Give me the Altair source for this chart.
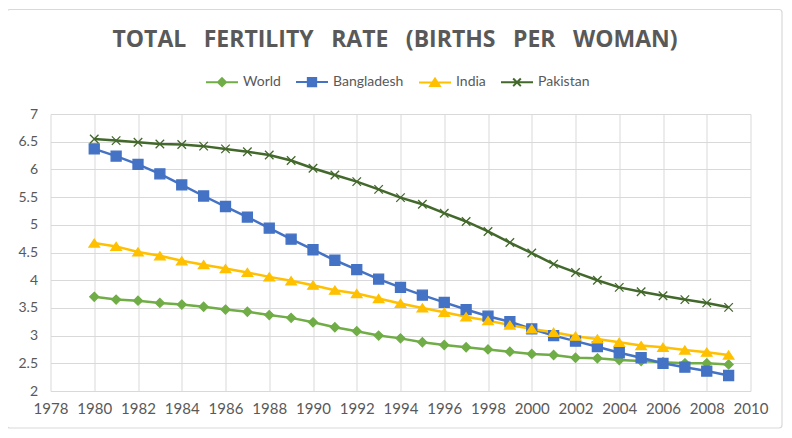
import altair as alt
import pandas as pd

years = list(range(1980, 2010))
series_names = ["World", "Bangladesh", "India", "Pakistan"]
world = [3.70, 3.65, 3.63, 3.59, 3.56, 3.52, 3.47, 3.43, 3.37, 3.32,
         3.24, 3.15, 3.08, 3.00, 2.95, 2.88, 2.83, 2.79, 2.75, 2.71,
         2.67, 2.65, 2.60, 2.59, 2.56, 2.54, 2.52, 2.50, 2.50, 2.48]
bangladesh = [6.37, 6.24, 6.09, 5.92, 5.72, 5.52, 5.33, 5.14, 4.94, 4.74,
              4.55, 4.36, 4.19, 4.02, 3.87, 3.73, 3.60, 3.47, 3.35, 3.25,
              3.12, 3.00, 2.90, 2.80, 2.69, 2.60, 2.50, 2.43, 2.36, 2.28]
india = [4.67, 4.61, 4.51, 4.44, 4.35, 4.28, 4.21, 4.14, 4.06, 3.99,
         3.91, 3.82, 3.76, 3.67, 3.58, 3.50, 3.42, 3.34, 3.27, 3.19,
         3.12, 3.06, 2.99, 2.94, 2.88, 2.82, 2.79, 2.74, 2.70, 2.65]
pakistan = [6.55, 6.52, 6.49, 6.46, 6.45, 6.42, 6.37, 6.32, 6.26, 6.16,
            6.02, 5.90, 5.78, 5.64, 5.49, 5.37, 5.21, 5.06, 4.88, 4.68,
            4.49, 4.29, 4.14, 4.00, 3.87, 3.79, 3.72, 3.65, 3.59, 3.51]
colors = ["#70AD47", "#4472C4", "#FFC000", "#43682B"]
x_ticks = list(range(1978, 2011, 2))
y_ticks = [2, 2.5, 3, 3.5, 4, 4.5, 5, 5.5, 6, 6.5, 7]

marker_paths = [
    "M0,-0.9L0.9,0L0,0.9L-0.9,0Z",
    "M-1,-1H1V1H-1Z",
    "M0,-0.8L1.05,0.8L-1.05,0.8Z",
    "M-0.85,-0.85L0.85,0.85M-0.85,0.85L0.85,-0.85",
]
legend_paths = [
    "M-1,0H1M0,-0.25L0.25,0L0,0.25L-0.25,0Z",
    "M-1,0H1M-0.26,-0.26H0.26V0.26H-0.26Z",
    "M-1,0H1M0,-0.24L0.3,0.22L-0.3,0.22Z",
    "M-1,0H1M-0.24,-0.24L0.24,0.24M-0.24,0.24L0.24,-0.24",
]

rows = []
for name, vals in zip(series_names, [world, bangladesh, india, pakistan]):
    for yr, v in zip(years, vals):
        rows.append({"Year": yr, "Series": name, "Value": v})
df = pd.DataFrame(rows)

color_scale = alt.Scale(domain=series_names, range=colors)
label_color = "#595959"
grid_color = "#D9D9D9"

legend = alt.Legend(
    orient="none", legendX=154.5, legendY=-49.3, direction="horizontal",
    title=None, symbolSize=1024, symbolStrokeWidth=2,
    labelFont="Lato", labelFontSize=14, labelColor=label_color,
    labelOffset=4, columnPadding=11, padding=0,
)

x_enc = alt.X("Year:Q", scale=alt.Scale(domain=[1978, 2010], nice=False, zero=False),
              axis=alt.Axis(values=x_ticks, format="d", grid=True, gridColor=grid_color,
                            domain=False, ticks=False, labelFont="Lato", labelFontSize=15,
                            labelColor=label_color, labelPadding=10, title=None,
                            labelFlush=False, labelOverlap=False))
y_enc = alt.Y("Value:Q", scale=alt.Scale(domain=[2, 7], nice=False, zero=False),
              axis=alt.Axis(values=y_ticks, format="~g", grid=True, gridColor=grid_color,
                            domain=False, ticks=False, labelFont="Lato", labelFontSize=14,
                            labelColor=label_color, labelPadding=13, title=None,
                            labelOverlap=False))

base = alt.Chart(df)
layers = []
for name, col in zip(series_names, colors):
    layers.append(
        base.transform_filter(alt.datum.Series == name)
        .mark_line(strokeWidth=2.5, color=col)
        .encode(x=x_enc, y=y_enc, order=alt.Order("Year:Q"))
    )
for name, col, path in zip(series_names, colors, marker_paths):
    layers.append(
        base.transform_filter(alt.datum.Series == name)
        .mark_point(filled=True, opacity=1, size=100, strokeWidth=1.3, shape=path,
                    fill=col, stroke=col)
        .encode(x=x_enc, y=y_enc)
    )

legend_layer = base.transform_filter("false").mark_point(
    filled=True, opacity=1, strokeWidth=2
).encode(
    color=alt.Color("Series:N", scale=color_scale, legend=legend),
    stroke=alt.Stroke("Series:N", scale=color_scale, legend=legend),
    shape=alt.Shape("Series:N", scale=alt.Scale(domain=series_names, range=legend_paths),
                    legend=legend),
)

frame = alt.Chart(pd.DataFrame({"f": [0]})).mark_rect(
    fill="transparent", stroke=grid_color, strokeWidth=1.2, cornerRadius=3
).encode(x=alt.value(-43.5), x2=alt.value(731.5), y=alt.value(-104.5), y2=alt.value(314))

chart = alt.layer(frame, *layers, legend_layer).properties(
    width=700, height=277,
    autosize=alt.AutoSizeParams(type="none"),
    padding={"left": 42.5, "top": 106, "right": 33.5, "bottom": 39},
    title=alt.Title("TOTAL\u2002 FERTILITY\u2002 RATE\u2002 (BIRTHS\u2002 PER\u2002 WOMAN)",
                    font="Open Sans", fontSize=23, fontWeight="bold", color=label_color,
                    anchor="middle", baseline="alphabetic", offset=-60.8, dx=-5.5),
).configure_view(stroke=None)

chart.save("out.html", embed_options={"renderer": "svg", "actions": False})
